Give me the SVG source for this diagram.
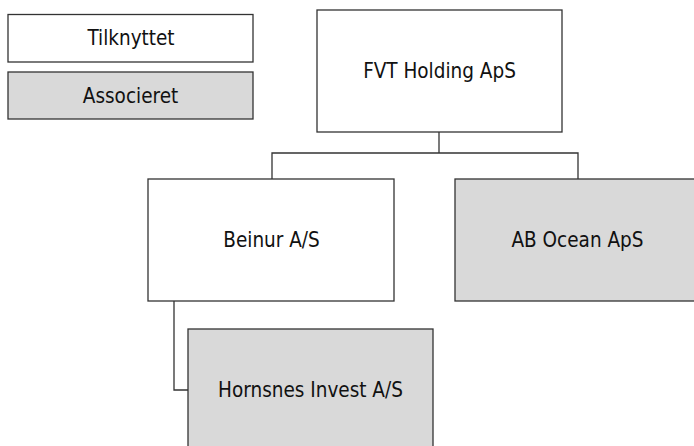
<svg xmlns="http://www.w3.org/2000/svg" width="694" height="446" viewBox="0 0 694 446">
<style>
.box{fill:#ffffff;stroke:#333333;stroke-width:1.3}
.assoc{fill:#d9d9d9;stroke:#333333;stroke-width:1.3}
.lbl{font-family:"DejaVu Sans Condensed","DejaVu Sans",sans-serif;font-stretch:condensed;font-size:20.5px;fill:#111111;text-anchor:middle}
.conn{fill:none;stroke:#333333;stroke-width:1.3}
</style>
<rect width="694" height="446" fill="#ffffff"/>
<g id="legend-tilknyttet">
<rect class="box" x="8" y="14.5" width="245" height="47.5"/>
<text class="lbl" x="131" y="45">Tilknyttet</text>
</g>
<g id="legend-associeret">
<rect class="assoc" x="8" y="72" width="245" height="47"/>
<text class="lbl" x="130.5" y="103">Associeret</text>
</g>
<g id="connectors">
<polyline class="conn" points="439,132 439,153"/>
<polyline class="conn" points="272,179 272,153 578,153 578,179"/>
<polyline class="conn" points="174,301 174,390 188,390"/>
</g>
<g id="fvt">
<rect class="box" x="317" y="10" width="245" height="122"/>
<text class="lbl" x="439.5" y="78">FVT Holding ApS</text>
</g>
<g id="beinur">
<rect class="box" x="148" y="179" width="246" height="122"/>
<text class="lbl" x="271.5" y="247">Beinur A/S</text>
</g>
<g id="abocean">
<rect class="assoc" x="455" y="179" width="245" height="122"/>
<text class="lbl" x="577.5" y="247">AB Ocean ApS</text>
</g>
<g id="hornsnes">
<rect class="assoc" x="188" y="329" width="245" height="125"/>
<text class="lbl" x="310.5" y="397">Hornsnes Invest A/S</text>
</g>
</svg>
